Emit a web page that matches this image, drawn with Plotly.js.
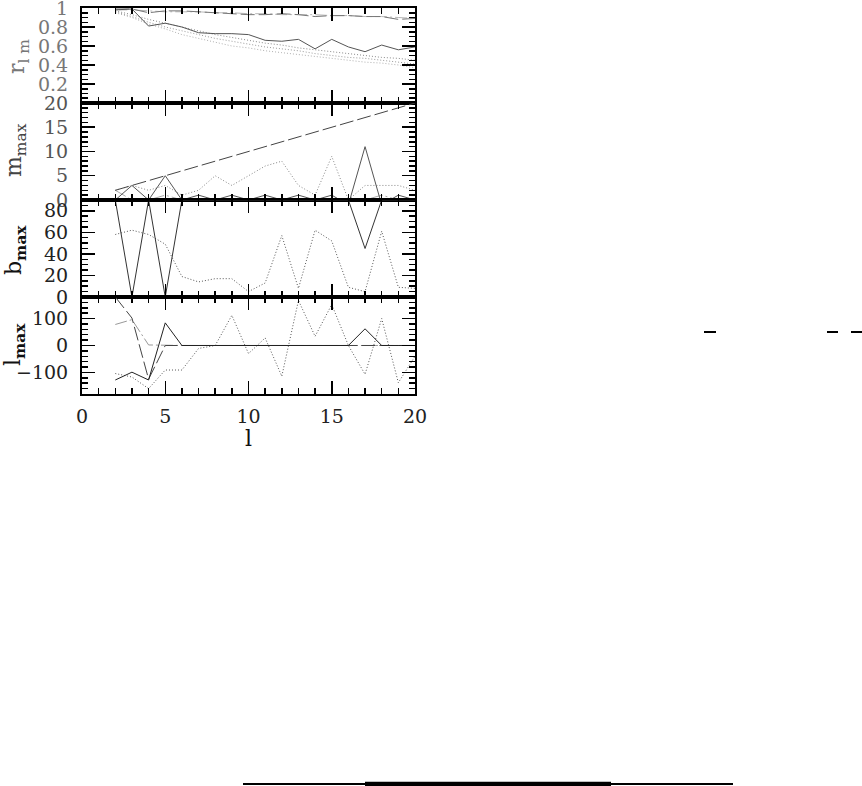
<!DOCTYPE html>
<html>
<head>
<meta charset="utf-8">
<script src="https://cdn.plot.ly/plotly-3.0.1.min.js"></script>
<style>html,body{margin:0;padding:0;background:#fff;}</style>
</head>
<body>
<div id="chart" style="width:862px;height:786px;"></div>
<script>
// multipole degree l
const ell = [2,3,4,5,6,7,8,9,10,11,12,13,14,15,16,17,18,19,20];

// Panel 1: r_lm
const rSolid   = [0.98,0.99,0.81,0.84,0.80,0.74,0.73,0.73,0.72,0.66,0.65,0.67,0.57,0.67,0.59,0.54,0.61,0.56,0.59];
const rDashed  = [0.99,0.99,0.95,0.97,0.97,0.96,0.95,0.94,0.93,0.93,0.94,0.93,0.91,0.92,0.92,0.91,0.91,0.88,0.89];
const rDashDot = [0.98,0.98,0.97,0.96,0.96,0.96,0.95,0.95,0.94,0.94,0.93,0.93,0.93,0.92,0.92,0.91,0.91,0.90,0.89];
const rDot1    = [0.97,0.93,0.88,0.84,0.80,0.76,0.72,0.69,0.66,0.63,0.61,0.58,0.56,0.54,0.52,0.50,0.48,0.47,0.45];
const rDot2    = [0.96,0.91,0.85,0.80,0.76,0.72,0.68,0.65,0.62,0.59,0.57,0.55,0.52,0.50,0.48,0.47,0.45,0.43,0.41];
const rDot3    = [0.95,0.90,0.83,0.78,0.72,0.68,0.64,0.60,0.58,0.55,0.53,0.51,0.49,0.47,0.45,0.43,0.42,0.40,0.37];

// Panel 2: m_max
const mSolid   = [0,3,0,5,0,1,0,1,0,1,0,1,0,1,-1,11,-1,1,0];
const mDashed  = [2,3,4,5,6,7,8,9,10,11,12,13,14,15,16,17,18,19,20];
const mDot     = [2,3,2,3,1,2,5,3,5,7,8,3,1,9,0,3,3,3,2];
const mDashDot = [2,0,0,1,0,0,0,0,0,0,0,0,0,0,0,0,1,0,0];

// Panel 3: b_max
const bSolid   = [90,0,90,0,90,90,90,90,90,90,90,90,90,90,90,45,90,90,90];
const bDot     = [58,62,58,49,19,14,17,17,5,13,57,8,62,52,9,5,61,9,8];

// Panel 4: l_max
const lSolid   = [-128,-99,-128,84,0,0,0,0,0,0,0,0,0,0,0,62,0,0,0];
const lDashed  = [180,102,-125,0,0,0,0,0,0,0,0,0,0,0,0,0,0,0,0];
const lDashDot = [78,96,2,0,0,0,0,0,0,0,0,0,0,0,0,0,0,0,0];
const lDot     = [-104,-117,-160,-91,-91,-11,0,112,-30,28,-114,167,34,152,0,-107,100,-138,-40];

// tick labels
const r_ticks = [0,0.2,0.4,0.6,0.8,1];
const r_text  = ['','0.2','0.4','0.6','0.8','1'];
const m_ticks = [0,5,10,15,20];
const b_ticks = [0,20,40,60,80];
const l_ticks = [-100,0,100];
const x_ticks = [0,5,10,15,20];

function tr(y, yax, xax, color, dash, width){
  return {x: ell, y: y, xaxis: xax, yaxis: yax, type:'scatter', mode:'lines',
          line:{color:color, dash:dash, width:width||1}, hoverinfo:'skip'};
}
const DASH = '14px,4px';
const DASHDOT = '12px,3px,2px,3px';
const DOT = '1px,2px';

const data = [
  tr(rDot1,'y','x','#8a8a8a',DOT),
  tr(rDot2,'y','x','#9a9a9a',DOT),
  tr(rDot3,'y','x','#b0b0b0',DOT),
  tr(rDashDot,'y','x','#b8b8b8',DASHDOT),
  tr(rDashed,'y','x','#777',DASH),
  tr(rSolid,'y','x','#555','solid'),

  tr(mDashDot,'y2','x2','#aaa',DASHDOT),
  tr(mDot,'y2','x2','#888',DOT),
  tr(mDashed,'y2','x2','#444',DASH),
  tr(mSolid,'y2','x2','#555','solid'),

  tr(bDot,'y3','x3','#555',DOT),
  tr(bSolid,'y3','x3','#333','solid'),

  tr(lDashDot,'y4','x4','#999',DASHDOT),
  tr(lDot,'y4','x4','#555',DOT),
  tr(lDashed,'y4','x4','#444',DASH),
  tr(lSolid,'y4','x4','#222','solid'),
];

const FONT = 'DejaVu Serif, Liberation Serif, serif';
const frame = {showline:true, linewidth:2, linecolor:'#000', mirror:'allticks',
  ticks:'inside', ticklen:13, tickwidth:1.5, tickcolor:'#000',
  showgrid:false, zeroline:false, fixedrange:true, ticklabeloverflow:'allow'};

function xax(anchor, labels){
  return Object.assign({}, frame, {
    anchor: anchor, range:[0,20], domain:[0,1],
    tickmode:'array', tickvals:x_ticks, showticklabels: labels,
    tickfont:{family:FONT, size:19, color:'#222'},
    ticklabelstandoff: 4,
    minor:{tickmode:'linear', tick0:0, dtick:1, ticks:'inside', ticklen:6, tickwidth:1.5, tickcolor:'#000'}
  });
}
function yax(anchor, dom, range, vals, text, minorD, col){
  const a = Object.assign({}, frame, {
    anchor: anchor, domain: dom, range: range,
    tickmode:'array', tickvals: vals,
    tickfont:{family:FONT, size:19, color:col},
    ticklabelstandoff: 8,
    minor:{tickmode:'linear', tick0:0, dtick:minorD, ticks:'inside', ticklen:6, tickwidth:1.5, tickcolor:'#000'}
  });
  if (text) a.ticktext = text;
  return a;
}

// plot area: x 82..415 px, y 8..394 px
const PX = px => (px-82)/333;
const PY = py => (394-py)/386;
function ytitle(px, py, txt, col){
  return {xref:'paper', yref:'paper', x:PX(px), y:PY(py), xanchor:'center', yanchor:'middle',
          text:txt, showarrow:false, textangle:-90, font:{family:FONT, size:22, color:col}};
}

const layout = {
  width:862, height:786,
  margin:{l:82, r:447, t:8, b:392},
  paper_bgcolor:'#fff', plot_bgcolor:'#fff',
  showlegend:false,
  font:{family:FONT, color:'#000'},
  xaxis:  xax('y', false),
  xaxis2: Object.assign(xax('y2', false), {matches:'x'}),
  xaxis3: Object.assign(xax('y3', false), {matches:'x'}),
  xaxis4: Object.assign(xax('y4', true), {matches:'x'}),
  yaxis:  yax('x',  [0.7539,1],      [0,1],     r_ticks, r_text, 0.05, '#777'),
  yaxis2: yax('x2', [0.5026,0.7539], [0,20],    m_ticks, null, 1, '#555'),
  yaxis3: yax('x3', [0.2513,0.5026], [0,90],    b_ticks, null, 5, '#222'),
  yaxis4: yax('x4', [0,0.2513],      [-180,180],l_ticks, null, 20, '#222'),
  annotations:[
    ytitle(18, 57, 'r<sub>l m</sub>', '#777'),
    ytitle(15, 150, 'm<sub>max</sub>', '#444'),
    ytitle(15, 250, 'b<sub><b>max</b></sub>', '#111'),
    ytitle(14, 345, 'l<sub><b>max</b></sub>', '#111'),
    {xref:'paper', yref:'paper', x:PX(248), y:PY(438), xanchor:'center', yanchor:'middle',
     text:'l', showarrow:false, font:{family:FONT, size:22, color:'#111'}}
  ],
  shapes:[
    {type:'line', xref:'paper', yref:'paper', x0:PX(704), x1:PX(716), y0:PY(332), y1:PY(332), line:{color:'#000', width:2}},
    {type:'line', xref:'paper', yref:'paper', x0:PX(827), x1:PX(838), y0:PY(332), y1:PY(332), line:{color:'#000', width:2}},
    {type:'line', xref:'paper', yref:'paper', x0:PX(851), x1:PX(862), y0:PY(332), y1:PY(332), line:{color:'#000', width:2}},
    {type:'line', xref:'paper', yref:'paper', x0:PX(243), x1:PX(733), y0:PY(784), y1:PY(784), line:{color:'#000', width:2}},
    {type:'line', xref:'paper', yref:'paper', x0:PX(365), x1:PX(611), y0:PY(784), y1:PY(784), line:{color:'#000', width:4.5}}
  ]
};

Plotly.newPlot('chart', data, layout, {staticPlot:true, displayModeBar:false});
</script>
</body>
</html>
